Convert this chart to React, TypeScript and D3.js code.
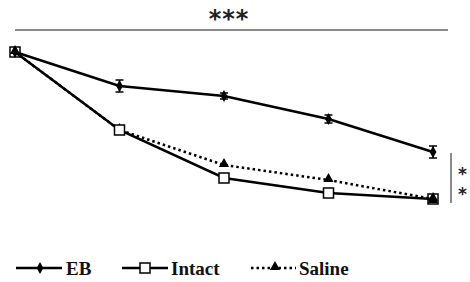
import React from 'react';
import * as d3 from 'd3';

const timepoints = [0, 1, 2, 3, 4];
const ebValues = [100, 83, 78, 66.5, 50];
const ebErrors = [0, 3, 1.5, 2, 3];
const intactValues = [100, 61, 37, 29.5, 26.5];
const saline = [100, 61, 43.5, 36, 26.5];
const topStars = '***';
const sideStars = ['*', '*'];
const legendLabels = ['EB', 'Intact', 'Saline'];

const W = 470, H = 282;

const App = () => {
  const x = d3.scaleLinear().domain([0, 4]).range([15, 433]);
  const y = d3.scaleLinear().domain([0, 100]).range([252, 52]);

  const line = d3.line<number>()
    .x((d, i) => x(timepoints[i]))
    .y(d => y(d));

  const diamond = d3.symbol().type(d3.symbolDiamond).size(40)();
  const triangle = d3.symbol().type(d3.symbolTriangle).size(45)();

  return (
    <svg width={W} height={H} style={{ position: 'absolute', left: 0, top: 0 }}>
      <rect width={W} height={H} fill="#fff" />

      {/* significance bars */}
      <line x1={15} x2={448} y1={30} y2={30} stroke="#8a8a8a" strokeWidth={2} />
      <text x={229} y={27} textAnchor="middle" fontFamily="DejaVu Sans" fontWeight="bold"
        fontSize={24} fill="#222" letterSpacing={1}>{topStars}</text>
      <line x1={451} x2={451} y1={153} y2={203} stroke="#8a8a8a" strokeWidth={2} />
      {sideStars.map((s, i) => (
        <text key={i} x={458} y={180 + i * 20} fontFamily="DejaVu Sans" fontWeight="bold"
          fontSize={17} fill="#222">{s}</text>
      ))}

      {/* saline */}
      <path d={line(saline) ?? ''} fill="none" stroke="#000" strokeWidth={2.5}
        strokeDasharray="2.5 3" />
      {saline.map((v, i) => (
        <path key={i} d={triangle ?? ''} transform={`translate(${x(timepoints[i])},${y(v) - 1})`} fill="#000" />
      ))}

      {/* intact */}
      <path d={line(intactValues) ?? ''} fill="none" stroke="#000" strokeWidth={2.5} />
      {intactValues.map((v, i) => (
        <rect key={i} x={x(timepoints[i]) - 5} y={y(v) - 5} width={10} height={10}
          fill={i === 0 || i === 4 ? 'none' : '#fff'} stroke="#000" strokeWidth={1.5} />
      ))}
      <path d={triangle ?? ''} transform={`translate(${x(4)},${y(saline[4]) + 1})`} fill="#000" />

      {/* EB */}
      <path d={line(ebValues) ?? ''} fill="none" stroke="#000" strokeWidth={2.5} />
      {ebValues.map((v, i) => (
        <g key={i} transform={`translate(${x(timepoints[i])},0)`}>
          {ebErrors[i] > 0 && (
            <g stroke="#000" strokeWidth={1.5}>
              <line x1={0} x2={0} y1={y(v + ebErrors[i])} y2={y(v - ebErrors[i])} />
              <line x1={-4} x2={4} y1={y(v + ebErrors[i])} y2={y(v + ebErrors[i])} />
              <line x1={-4} x2={4} y1={y(v - ebErrors[i])} y2={y(v - ebErrors[i])} />
            </g>
          )}
          <path d={diamond ?? ''} transform={`translate(0,${y(v)})`} fill="#000" />
        </g>
      ))}

      {/* legend */}
      <g fontFamily="Liberation Serif" fontWeight="bold" fontSize={19} fill="#111">
        <line x1={16} x2={62} y1={268} y2={268} stroke="#000" strokeWidth={2.5} />
        <path d={diamond ?? ''} transform="translate(40,268)" fill="#000" />
        <text x={66} y={275}>{legendLabels[0]}</text>

        <line x1={122} x2={168} y1={268} y2={268} stroke="#000" strokeWidth={2.5} />
        <rect x={140} y={263} width={10} height={10} fill="#fff" stroke="#000" strokeWidth={1.5} />
        <text x={171} y={275}>{legendLabels[1]}</text>

        <line x1={251} x2={296} y1={268} y2={268} stroke="#000" strokeWidth={2.5} strokeDasharray="2.5 3" />
        <path d={triangle ?? ''} transform="translate(275,267)" fill="#000" />
        <text x={299} y={275}>{legendLabels[2]}</text>
      </g>
    </svg>
  );
};

export default App;
